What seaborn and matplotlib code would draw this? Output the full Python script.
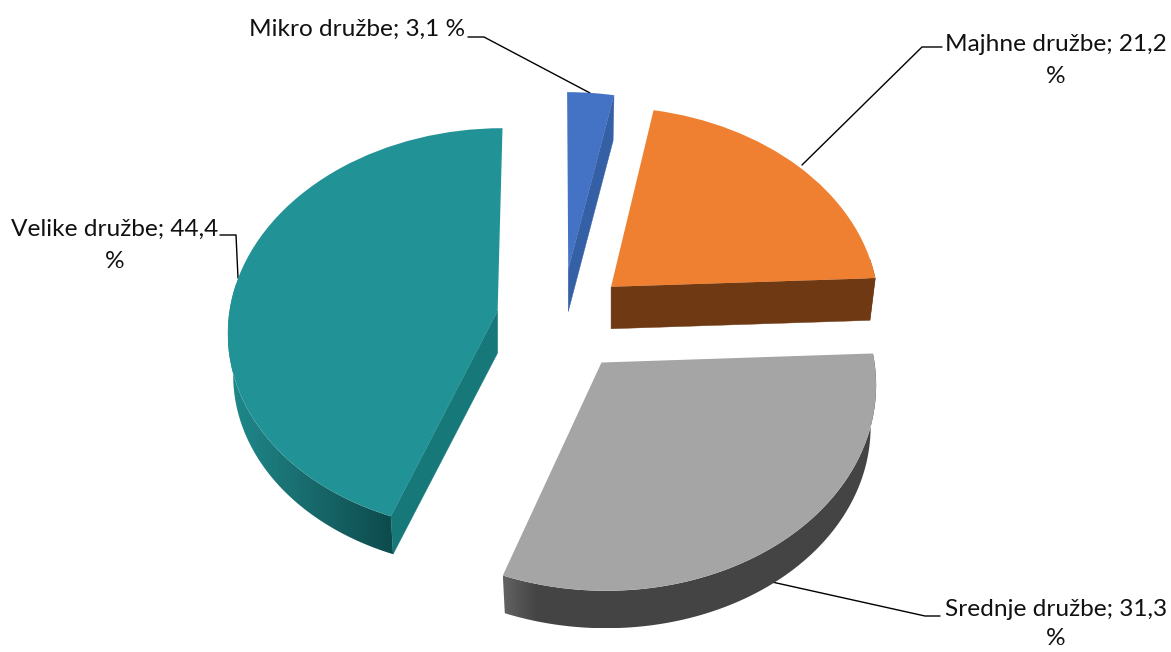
import numpy as np
import matplotlib
matplotlib.use("Agg")
import matplotlib.pyplot as plt
import seaborn as sns
from matplotlib.transforms import Transform
from matplotlib.patches import Polygon
from matplotlib.colors import LinearSegmentedColormap

categories = ["Mikro družbe", "Majhne družbe", "Srednje družbe", "Velike družbe"]
values = [3.1, 21.2, 31.3, 44.4]
top_colors = ["#4472C4", "#F08031", "#A5A5A5", "#219396"]
cut_colors = ["#3560A5", "#6F3914", "#444444", "#17787A"]
# outer wall shading, left to right across the visible wall
wall_stops = [
    [(0, "#3560A5"), (1, "#3560A5")],
    [(0, "#6F3914"), (1, "#6F3914")],
    [(0, "#626262"), (0.09, "#444444"), (1, "#444444")],
    [(0, "#1F8A8C"), (0.4, "#1A7072"), (1, "#0D4A4C")],
]

# layout of the projected 3-D pie (pixels)
CX, CY, KX, KY, P = 562.0, 320.0, 269.0, 201.0, 0.0926
TIP_KY = 212.0
QX, QY = 0.075, 0.15
EXPLODE = 0.244
DEPTH, SHRINK = 42.0, 0.98
VANISH_X = 555.0

sns.set_theme(style="white")
plt.rcParams["font.family"] = ["Lato", "DejaVu Sans"]

fig = plt.figure(figsize=(11.71, 6.52), dpi=100)
ax = fig.add_axes([0, 0, 1, 1])
wedges, _ = ax.pie(values, explode=[EXPLODE] * 4, startangle=90, counterclock=False,
                   colors=top_colors, radius=1, frame=True,
                   wedgeprops=dict(linewidth=0))
ax.axis("off")


def project(xy, center):
    xy = np.atleast_2d(xy)
    c = np.asarray(center)
    tx = CX + KX * c[0] / (1 + P * c[1])
    ty = CY - TIP_KY * c[1] / (1 + P * c[1])
    sx = 1 / (1 + QX * c[1])
    sy = 1 / (1 + QY * c[1])
    d = xy - c
    w = 1 + P * d[:, 1]
    return np.column_stack([VANISH_X + (tx - VANISH_X) / w + sx * KX * d[:, 0] / w,
                            ty - sy * KY * d[:, 1] / w])


class SliceProjection(Transform):
    input_dims = output_dims = 2
    is_affine = False
    has_inverse = False

    def __init__(self, center):
        super().__init__()
        self.center = center

    def transform_non_affine(self, values):
        return project(values, self.center)


def lower(pts, tip):
    return np.column_stack([tip[0] + SHRINK * (pts[:, 0] - tip[0]),
                            tip[1] + DEPTH + SHRINK * (pts[:, 1] - tip[1])])


for i, w in enumerate(wedges):
    c = np.array(w.center)
    w.set_transform(SliceProjection(tuple(c)) + ax.transData)
    w.set_zorder(3)
    tip = project(c, c)[0]
    ang = np.radians(np.linspace(w.theta2, w.theta1, 200))
    rim = project(c + np.column_stack([np.cos(ang), np.sin(ang)]), c)
    # outer wall: only the part turned towards the viewer
    vis = np.sin(ang) < 0.15
    if vis.sum() > 1:
        outline = np.vstack([rim[vis], lower(rim[vis], tip)[::-1]])
        clip = Polygon(outline, closed=True, transform=ax.transData, facecolor="none",
                       edgecolor="none")
        ax.add_patch(clip)
        cmap = LinearSegmentedColormap.from_list(f"wall{i}", wall_stops[i])
        im = ax.imshow(np.linspace(0, 1, 512)[None, :], cmap=cmap, aspect="auto",
                       extent=(outline[:, 0].min(), outline[:, 0].max(),
                               outline[:, 1].max(), outline[:, 1].min()),
                       zorder=2, interpolation="bilinear")
        im.set_clip_path(clip)
    # flat cut faces: only those whose outward side points to the viewer
    for edge, out in ((rim[0], w.theta2 + 90), (rim[-1], w.theta1 - 90)):
        if np.sin(np.radians(out)) < -0.05:
            top = np.array([tip, edge])
            ax.add_patch(Polygon(np.vstack([top, lower(top, tip)[::-1]]), closed=True,
                                 facecolor=cut_colors[i], edgecolor=cut_colors[i],
                                 linewidth=0.3, zorder=2.2))

ax.set_aspect("auto")
ax.set_xlim(0, 1171)
ax.set_ylim(652, 0)

# leader lines and labels
leaders = [([468, 484, 590], [37, 37, 93]),
           ([942, 922, 802], [47, 47, 165]),
           ([940, 925, 772], [616, 616, 582]),
           ([220, 236, 238], [235, 235, 278])]
label_pos = [(357, 29.5), (1056, 60.5), (1056, 624), (115, 245)]
label_spacing = [1.66, 1.66, 1.45, 1.66]
breaks = [" ", "\n", "\n", "\n"]
for cat, val, brk, (lx, ly), (tx, ty), sp in zip(categories, values, breaks, leaders,
                                                 label_pos, label_spacing):
    ax.plot(lx, ly, color="black", lw=1.0, zorder=1, solid_joinstyle="miter")
    num = f"{val:.1f}".replace(".", ",")
    ax.text(tx, ty, f"{cat}; {num}{brk}%", ha="center", va="center",
            fontsize=17.6, color="#111111", linespacing=sp, zorder=5, clip_on=False)

fig.savefig("out.png", dpi=100)
